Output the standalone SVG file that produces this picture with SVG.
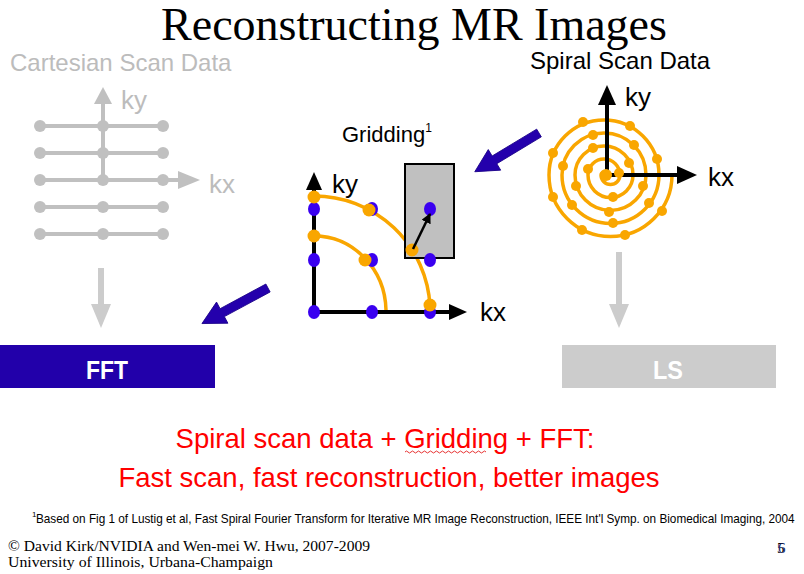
<svg xmlns="http://www.w3.org/2000/svg" width="804" height="574" viewBox="0 0 804 574">
<style>
.sans{font-family:"Liberation Sans",Arial,sans-serif}
.serif{font-family:"Liberation Serif","Times New Roman",serif}
.gray{fill:#bcbcbc}
.gline{stroke:#c0c0c0;stroke-width:4;fill:none}
.gdot{fill:#c0c0c0}
.axis{stroke:#000;stroke-width:4;fill:none}
.bdot{fill:#3a00f0}
.odot{fill:#f9a600}
.oarc{stroke:#f9a600;stroke-width:3.5;fill:none}
.lbl{font-size:26px;fill:#000}
.squig{stroke:#e00000;stroke-width:0.8;fill:none}
</style>
<defs>
<path id="bluearrow" d="M0,-4.5 L52,-4.5 L52,-12 L75,0 L52,12 L52,4.5 L0,4.5 Z" fill="#2400ac" stroke="#1a0088" stroke-width="0.8"/>
<marker id="blk" viewBox="0 0 10 10" refX="9" refY="5" markerWidth="4" markerHeight="4" orient="auto">
<path d="M0,0 L10,5 L0,10 Z" fill="#000"/>
</marker>
</defs>
<rect width="804" height="574" fill="#fff"/>

<text class="serif" x="414" y="40" font-size="46" text-anchor="middle" fill="#000">Reconstructing MR Images</text>

<g id="cartesian">
<text class="sans gray" x="10" y="71" font-size="24">Cartesian Scan Data</text>
<line class="gline" x1="40" y1="126" x2="163" y2="126"/>
<line class="gline" x1="40" y1="153" x2="163" y2="153"/>
<line class="gline" x1="40" y1="180" x2="180" y2="180"/>
<line class="gline" x1="40" y1="207" x2="163" y2="207"/>
<line class="gline" x1="40" y1="234" x2="163" y2="234"/>
<line class="gline" x1="103" y1="102" x2="103" y2="180"/>
<polygon class="gdot" points="103,87 94,104 112,104"/>
<polygon class="gdot" points="200,180 178,171 178,189"/>
<g class="gdot">
<circle cx="40" cy="126" r="6"/><circle cx="103" cy="126" r="6"/><circle cx="163" cy="126" r="6"/>
<circle cx="40" cy="153" r="6"/><circle cx="103" cy="153" r="6"/><circle cx="163" cy="153" r="6"/>
<circle cx="40" cy="180" r="6"/><circle cx="103" cy="180" r="6"/><circle cx="163" cy="180" r="6"/>
<circle cx="40" cy="207" r="6"/><circle cx="103" cy="207" r="6"/><circle cx="163" cy="207" r="6"/>
<circle cx="40" cy="234" r="6"/><circle cx="103" cy="234" r="6"/><circle cx="163" cy="234" r="6"/>
</g>
<text class="sans gray" x="121" y="109" font-size="26">ky</text>
<text class="sans gray" x="209" y="193" font-size="26">kx</text>
</g>

<g id="spiral">
<text class="sans" x="530" y="69" font-size="24" fill="#000">Spiral Scan Data</text>
<path class="oarc" d="M607 175 A3 3 0 0 0 601 175 A9.5 9.5 0 0 0 620 175 A16 16 0 0 0 588 175 A22.5 22.5 0 0 0 633 175 A29 29 0 0 0 575 175 A35.5 35.5 0 0 0 646 175 A42 42 0 0 0 562 175 A48.5 48.5 0 0 0 659 175 A55 55 0 0 0 549 175 A61.5 61.5 0 0 0 672 175"/>
<line class="axis" x1="607" y1="102" x2="607" y2="175"/>
<line class="axis" x1="607" y1="175" x2="680" y2="175"/>
<polygon points="607,85 598,105 616,105" fill="#000"/>
<polygon points="697,175 677,166 677,184" fill="#000"/>
<g class="odot">
<circle cx="583" cy="122" r="5"/><circle cx="630" cy="126" r="5"/><circle cx="593" cy="135" r="5"/>
<circle cx="634" cy="145" r="5"/><circle cx="553" cy="153" r="5"/><circle cx="593" cy="148" r="5"/>
<circle cx="657" cy="159" r="5"/><circle cx="563" cy="166" r="5"/><circle cx="588" cy="169" r="5"/>
<circle cx="629" cy="163" r="5"/><circle cx="606" cy="175" r="6"/><circle cx="619" cy="173" r="5"/>
<circle cx="576" cy="186" r="5"/><circle cx="643" cy="186" r="5"/><circle cx="553" cy="197" r="5"/>
<circle cx="613" cy="197" r="5"/><circle cx="649" cy="203" r="5"/><circle cx="572" cy="205" r="5"/>
<circle cx="609" cy="212" r="5"/><circle cx="662" cy="211" r="5"/><circle cx="613" cy="223" r="5"/>
<circle cx="582" cy="230" r="5"/><circle cx="625" cy="235" r="5"/>
</g>
<text class="sans lbl" x="625" y="106">ky</text>
<text class="sans lbl" x="708" y="186">kx</text>
</g>

<g id="gridding">
<text class="sans" x="342" y="142" font-size="22" fill="#000">Gridding<tspan font-size="12" dy="-10">1</tspan></text>
<path class="oarc" d="M314 196 A116 116 0 0 1 430 306"/>
<path class="oarc" d="M314 236 A72 76 0 0 1 386 310"/>
<rect x="405" y="164" width="49" height="94" fill="#c0c0c0" stroke="#000" stroke-width="2"/>
<line class="axis" x1="314" y1="188" x2="314" y2="312"/>
<line class="axis" x1="314" y1="312" x2="450" y2="312"/>
<polygon points="314,172 306,190 322,190" fill="#000"/>
<polygon points="467,312 449,304 449,320" fill="#000"/>
<g class="bdot">
<ellipse cx="314" cy="209" rx="6" ry="7"/><ellipse cx="372" cy="209" rx="6" ry="7"/><ellipse cx="430" cy="209" rx="6" ry="7"/>
<ellipse cx="314" cy="260" rx="6" ry="7"/><ellipse cx="372" cy="260" rx="6" ry="7"/><ellipse cx="430" cy="260" rx="6" ry="7"/>
<ellipse cx="314" cy="312" rx="6" ry="7"/><ellipse cx="372" cy="312" rx="6" ry="7"/><ellipse cx="430" cy="312" rx="6" ry="7"/>
</g>
<g class="odot">
<circle cx="314" cy="197" r="6.5"/><circle cx="369" cy="210" r="6.5"/>
<circle cx="314" cy="236" r="6.5"/><circle cx="365" cy="260" r="6.5"/>
<circle cx="412" cy="250" r="6.5"/><circle cx="430" cy="305" r="6.5"/>
</g>
<line x1="413" y1="249" x2="430" y2="214" stroke="#000" stroke-width="2.5" marker-end="url(#blk)"/>
<text class="sans lbl" x="332" y="193">ky</text>
<text class="sans lbl" x="480" y="321">kx</text>
</g>

<g id="connectors">
<use href="#bluearrow" transform="translate(539,133) rotate(148.9)"/>
<use href="#bluearrow" transform="translate(268,288) rotate(151.7)"/>
<line x1="101" y1="268" x2="101" y2="306" stroke="#cccccc" stroke-width="6"/>
<polygon points="101,328 91,304 111,304" fill="#cccccc"/>
<line x1="619" y1="252" x2="619" y2="306" stroke="#cccccc" stroke-width="6"/>
<polygon points="619,328 609,304 629,304" fill="#cccccc"/>
</g>

<g id="fft">
<rect x="0" y="345" width="215" height="43" fill="#2200aa"/>
<text class="sans" x="107" y="379" font-size="26" font-weight="bold" fill="#fff" text-anchor="middle" textLength="42" lengthAdjust="spacingAndGlyphs">FFT</text>
</g>
<g id="ls">
<rect x="562" y="345" width="214" height="43" fill="#cccccc"/>
<text class="sans" x="668" y="379" font-size="26" font-weight="bold" fill="#fff" text-anchor="middle" textLength="30" lengthAdjust="spacingAndGlyphs">LS</text>
</g>

<g id="summary" class="sans" fill="#ff0000" font-size="27.5" text-anchor="middle">
<text x="385" y="448">Spiral scan data + Gridding + FFT:</text>
<text x="389" y="487">Fast scan, fast reconstruction, better images</text>
</g>
<path class="squig" d="M405 452 q1.5 -2 3 0 t3 0 t3 0 t3 0 t3 0 t3 0 t3 0 t3 0 t3 0 t3 0 t3 0 t3 0 t3 0 t3 0 t3 0 t3 0 t3 0 t3 0 t3 0 t3 0 t3 0 t3 0 t3 0 t3 0 t3 0 t3 0 t3 0"/>

<text class="sans" x="32" y="517" font-size="8" fill="#000">1</text>
<text class="sans" transform="translate(36,523) scale(0.87,1)" x="0" y="0" font-size="13" fill="#000" textLength="872" lengthAdjust="spacingAndGlyphs">Based on Fig 1 of Lustig et al, Fast Spiral Fourier Transform for Iterative MR Image Reconstruction, IEEE Int'l Symp. on Biomedical Imaging, 2004</text>

<g class="serif" fill="#000" font-size="15">
<text x="8" y="551" textLength="362" lengthAdjust="spacingAndGlyphs">© David Kirk/NVIDIA and Wen-mei W. Hwu, 2007-2009</text>
<text x="8" y="567" textLength="265" lengthAdjust="spacingAndGlyphs">University of Illinois, Urbana-Champaign</text>
<text x="777" y="553">5</text>
<text x="778" y="553" fill="#1a2a6a">6</text>
</g>
</svg>
